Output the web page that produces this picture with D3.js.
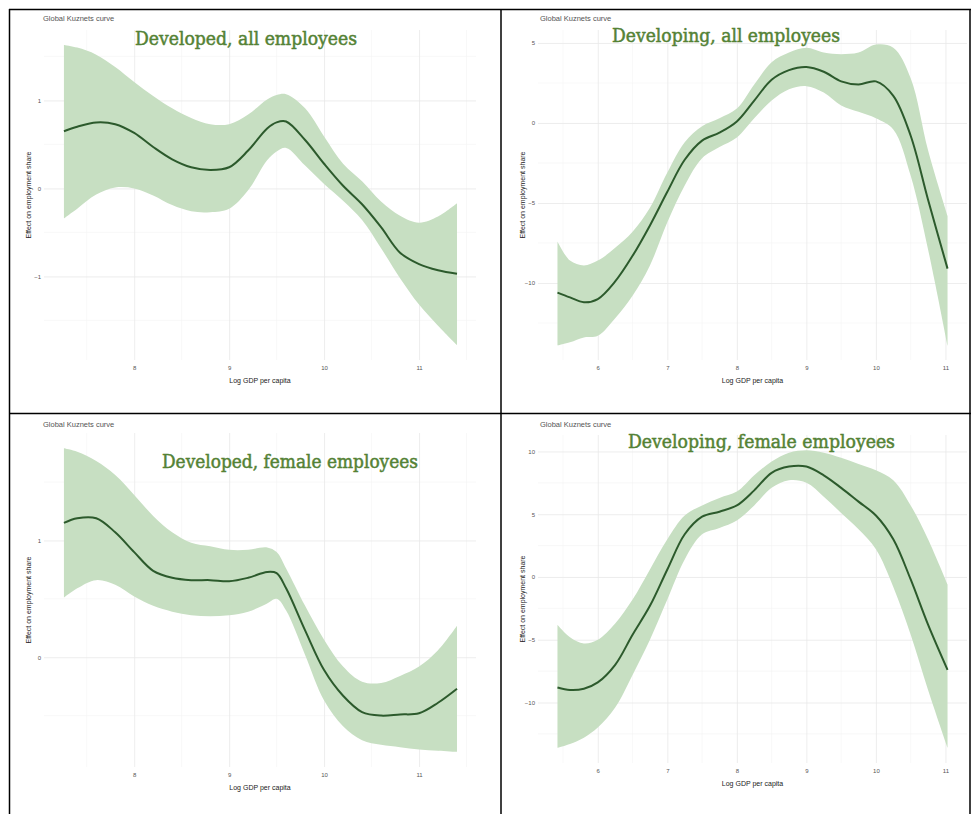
<!DOCTYPE html>
<html>
<head>
<meta charset="utf-8">
<script src="https://cdn.jsdelivr.net/npm/d3@7/dist/d3.min.js"></script>
<style>
  body { margin: 0; background: #fff; }
  text { font-family: "Liberation Sans", Arial, sans-serif; }
</style>
</head>
<body>
<svg id="chart" width="971" height="814"></svg>
<script>
// tick labels
var developedXTicks = [8, 9, 10, 11];
var developingXTicks = [6, 7, 8, 9, 10, 11];
var devAllYTicks = [1, 0, -1];
var dvgAllYTicks = [5, 0, -5, -10];
var devFemYTicks = [1, 0];
var dvgFemYTicks = [10, 5, 0, -5, -10];

// x positions of the smoothed curves (log GDP per capita)
var developedX = [7.26, 7.4, 7.6, 7.8, 8.0, 8.2, 8.4, 8.6, 8.8, 9.0, 9.2, 9.4, 9.5, 9.6, 9.8, 10.0, 10.2, 10.4, 10.6, 10.8, 11.0, 11.2, 11.4];
var developingX = [5.42, 5.6, 5.8, 6.0, 6.25, 6.5, 6.75, 7.0, 7.25, 7.5, 7.75, 8.0, 8.25, 8.5, 8.75, 9.0, 9.25, 9.5, 9.75, 10.0, 10.25, 10.5, 10.75, 11.03];

// developed, all employees
var devAllFit = [0.65, 0.70, 0.75, 0.73, 0.63, 0.47, 0.33, 0.24, 0.21, 0.24, 0.43, 0.68, 0.75, 0.76, 0.55, 0.28, 0.03, -0.18, -0.44, -0.73, -0.86, -0.93, -0.97];
var devAllHi = [1.63, 1.60, 1.52, 1.38, 1.21, 1.05, 0.91, 0.80, 0.73, 0.73, 0.84, 1.01, 1.06, 1.07, 0.91, 0.59, 0.28, 0.08, -0.15, -0.31, -0.39, -0.32, -0.17];
var devAllLo = [-0.34, -0.23, -0.07, 0.01, 0.0, -0.08, -0.19, -0.26, -0.27, -0.23, -0.02, 0.32, 0.42, 0.46, 0.26, 0.05, -0.14, -0.36, -0.68, -1.02, -1.32, -1.56, -1.78];

// developing, all employees
var dvgAllFit = [-10.6, -10.9, -11.2, -11.0, -9.9, -8.3, -6.4, -4.3, -2.3, -1.1, -0.6, 0.1, 1.4, 2.7, 3.3, 3.5, 3.2, 2.6, 2.4, 2.6, 1.7, -0.8, -4.8, -9.1];
var dvgAllHi = [-7.4, -8.6, -8.9, -8.6, -7.8, -6.8, -5.3, -3.1, -1.2, -0.2, 0.3, 0.9, 2.4, 3.8, 4.4, 4.7, 4.4, 4.3, 4.4, 4.9, 4.7, 2.8, -1.7, -5.8];
var dvgAllLo = [-13.9, -13.7, -13.4, -13.3, -12.2, -10.8, -8.9, -6.2, -3.9, -2.2, -1.5, -0.9, 0.3, 1.4, 2.1, 2.3, 1.9, 1.1, 0.7, 0.3, -0.4, -3.3, -7.9, -13.9];

// developed, female employees
var devFemFit = [1.15, 1.19, 1.19, 1.07, 0.90, 0.74, 0.68, 0.66, 0.66, 0.65, 0.68, 0.73, 0.72, 0.59, 0.23, -0.11, -0.33, -0.47, -0.50, -0.49, -0.48, -0.39, -0.27];
var devFemHi = [1.79, 1.76, 1.68, 1.56, 1.39, 1.21, 1.07, 0.98, 0.95, 0.92, 0.92, 0.94, 0.90, 0.76, 0.44, 0.15, -0.08, -0.21, -0.22, -0.16, -0.08, 0.06, 0.27];
var devFemLo = [0.51, 0.59, 0.66, 0.62, 0.52, 0.44, 0.39, 0.36, 0.35, 0.36, 0.39, 0.46, 0.50, 0.40, 0.02, -0.37, -0.59, -0.71, -0.75, -0.77, -0.79, -0.80, -0.81];

// developing, female employees
var dvgFemFit = [-8.8, -9.0, -8.9, -8.4, -7.0, -4.6, -2.3, 0.6, 3.4, 4.8, 5.2, 5.7, 6.9, 8.3, 8.8, 8.8, 8.1, 7.1, 6.0, 4.9, 3.0, -0.2, -3.8, -7.4];
var dvgFemHi = [-3.8, -4.8, -5.3, -5.0, -3.7, -1.8, 0.6, 3.0, 4.9, 5.7, 6.3, 6.8, 8.1, 9.2, 9.9, 10.1, 9.9, 9.5, 9.0, 8.5, 7.7, 5.7, 3.0, -0.6];
var dvgFemLo = [-13.6, -13.3, -12.8, -12.0, -10.4, -7.8, -5.0, -1.8, 1.4, 3.4, 3.9, 4.5, 5.7, 7.1, 7.7, 7.5, 6.4, 5.1, 3.8, 2.2, -0.8, -4.6, -9.0, -13.6];

var svg = d3.select("#chart");

var panels = [
  { title: "Developed, all employees", tx: 135, tw: 222, ty: 45,
    cap: [43, 21], left: 44, right: 476, top: 30, bottom: 360,
    xd: [7.05, 11.6], yd: [-1.95, 1.8], xt: developedXTicks, yt: devAllYTicks,
    x: developedX, fit: devAllFit, lo: devAllLo, hi: devAllHi },
  { title: "Developing, all employees", tx: 612, tw: 228, ty: 42,
    cap: [540, 21], left: 538, right: 967, top: 30, bottom: 360,
    xd: [5.14, 11.31], yd: [-14.81, 5.81], xt: developingXTicks, yt: dvgAllYTicks,
    x: developingX, fit: dvgAllFit, lo: dvgAllLo, hi: dvgAllHi },
  { title: "Developed, female employees", tx: 162, tw: 256, ty: 468,
    cap: [43, 427], left: 44, right: 476, top: 433, bottom: 767,
    xd: [7.05, 11.6], yd: [-0.94, 1.92], xt: developedXTicks, yt: devFemYTicks,
    x: developedX, fit: devFemFit, lo: devFemLo, hi: devFemHi },
  { title: "Developing, female employees", tx: 628, tw: 267, ty: 448,
    cap: [540, 427], left: 538, right: 967, top: 435, bottom: 763,
    xd: [5.14, 11.31], yd: [-14.82, 11.31], xt: developingXTicks, yt: dvgFemYTicks,
    x: developingX, fit: dvgFemFit, lo: dvgFemLo, hi: dvgFemHi }
];

panels.forEach(function(p) {
  var xScale = d3.scaleLinear().domain(p.xd).range([p.left, p.right]);
  var yScale = d3.scaleLinear().domain(p.yd).range([p.bottom, p.top]);
  var g = svg.append("g");

  // minor + major grid, ggplot minimal style
  var xMinor = p.xt.map(function(d) { return d - 0.5; }).concat([p.xt[p.xt.length - 1] + 0.5])
                  .filter(function(d) { return d > p.xd[0] && d < p.xd[1]; });
  var yStep = p.yt[0] - p.yt[1];
  var yMinor = p.yt.map(function(d) { return d + yStep / 2; }).concat([p.yt[p.yt.length - 1] - yStep / 2])
                  .filter(function(d) { return d > p.yd[0] && d < p.yd[1]; });

  g.selectAll(".xminor").data(xMinor).enter().append("line")
   .attr("x1", function(d) { return xScale(d); }).attr("x2", function(d) { return xScale(d); })
   .attr("y1", p.top).attr("y2", p.bottom)
   .attr("stroke", "#f3f3f3").attr("stroke-width", 0.6);
  g.selectAll(".yminor").data(yMinor).enter().append("line")
   .attr("y1", function(d) { return yScale(d); }).attr("y2", function(d) { return yScale(d); })
   .attr("x1", p.left).attr("x2", p.right)
   .attr("stroke", "#f3f3f3").attr("stroke-width", 0.6);

  var xAxis = d3.axisBottom(xScale).tickValues(p.xt).tickFormat(d3.format("d"))
                .tickSize(-(p.bottom - p.top)).tickPadding(6);
  var yAxis = d3.axisLeft(yScale).tickValues(p.yt).tickFormat(d3.format("d"))
                .tickSize(-(p.right - p.left)).tickPadding(3);

  var gx = g.append("g").attr("transform", "translate(0," + p.bottom + ")").call(xAxis);
  var gy = g.append("g").attr("transform", "translate(" + p.left + ",0)").call(yAxis);
  [gx, gy].forEach(function(a) {
    a.select(".domain").remove();
    a.selectAll(".tick line").attr("stroke", "#e9e9e9").attr("stroke-width", 0.8);
    a.selectAll(".tick text").attr("fill", "#555").style("font-size", "6px");
  });

  // confidence band and smooth
  var pts = p.x.map(function(d, i) { return { x: d, fit: p.fit[i], lo: p.lo[i], hi: p.hi[i] }; });
  var area = d3.area().curve(d3.curveCatmullRom)
               .x(function(d) { return xScale(d.x); })
               .y0(function(d) { return yScale(d.lo); })
               .y1(function(d) { return yScale(d.hi); });
  var line = d3.line().curve(d3.curveCatmullRom)
               .x(function(d) { return xScale(d.x); })
               .y(function(d) { return yScale(d.fit); });

  g.append("path").datum(pts).attr("d", area).attr("fill", "#c7dfc2");
  g.append("path").datum(pts).attr("d", line)
   .attr("fill", "none").attr("stroke", "#2c5a2c").attr("stroke-width", 2);

  // texts
  g.append("text").attr("x", p.cap[0]).attr("y", p.cap[1])
   .style("font-size", "7.5px").attr("fill", "#555").text("Global Kuznets curve");
  g.append("text").attr("x", (p.left + p.right) / 2).attr("y", p.bottom + 23)
   .attr("text-anchor", "middle").style("font-size", "7px").attr("fill", "#222")
   .text("Log GDP per capita");
  var cy = (p.top + p.bottom) / 2;
  g.append("text").attr("transform", "translate(" + (p.left - 13) + "," + cy + ") rotate(-90)")
   .attr("text-anchor", "middle").style("font-size", "7px").attr("fill", "#222")
   .text("Effect on employment share");

  g.append("text").attr("x", p.tx).attr("y", p.ty)
   .attr("textLength", p.tw).attr("lengthAdjust", "spacingAndGlyphs")
   .style("font-family", "'DejaVu Serif', serif").style("font-size", "18px")
   .attr("fill", "#548235").attr("stroke", "#548235").attr("stroke-width", 0.5)
   .text(p.title);
});

// table borders
var borders = [
  [9, 9.5, 971, 9.5], [9, 413.5, 971, 413.5],
  [9.5, 9, 9.5, 814], [501, 9, 501, 814], [970, 9, 970, 814]
];
svg.selectAll(".border").data(borders).enter().append("line")
   .attr("x1", function(d) { return d[0]; }).attr("y1", function(d) { return d[1]; })
   .attr("x2", function(d) { return d[2]; }).attr("y2", function(d) { return d[3]; })
   .attr("stroke", "#000").attr("stroke-width", 1.5);
</script>
</body>
</html>
